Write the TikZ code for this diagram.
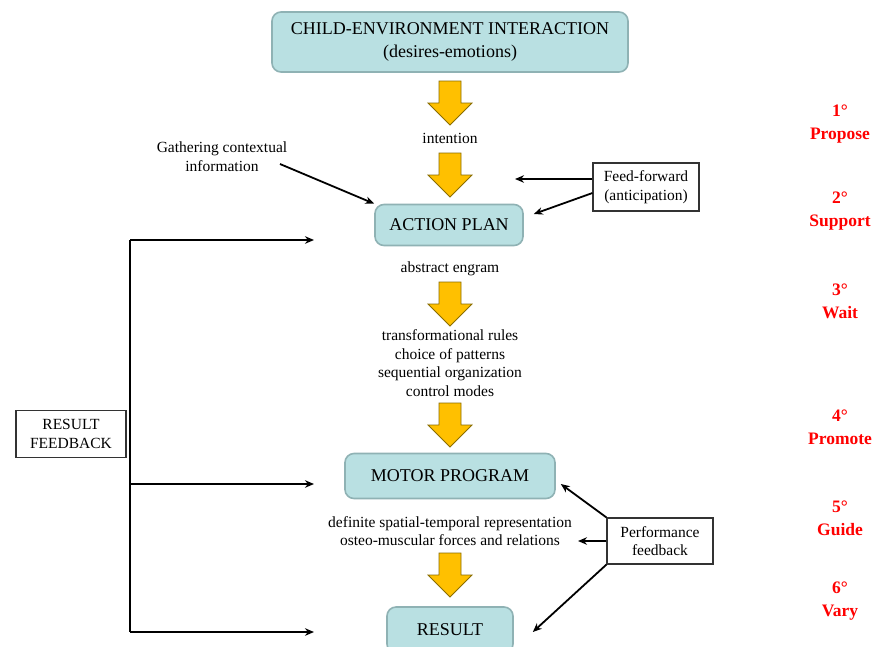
\documentclass[tikz,border=0pt]{standalone}
\usepackage{fontspec}
\setmainfont{Liberation Serif}
\usetikzlibrary{arrows.meta}
\definecolor{stagefill}{HTML}{B9E0E2}
\definecolor{stageline}{HTML}{8FB2B4}
\definecolor{arrowfill}{HTML}{FFC000}
\definecolor{arrowline}{HTML}{8A6D00}
\definecolor{phasered}{HTML}{FF0000}
\tikzset{
  bigarrow/.pic={
    \draw[fill=arrowfill,draw=arrowline,line width=0.8pt]
      (-11,0) -- (11,0) -- (11,22) -- (22,22) -- (0,44) -- (-22,22) -- (-11,22) -- cycle;
  }
}
\begin{document}
\begin{tikzpicture}[x=1pt,y=-1pt,
    stage/.style={draw=stageline,fill=stagefill,line width=1.6pt,rounded corners=9pt,
      align=center,inner sep=0pt,font=\fontsize{18}{23}\selectfont},
    note/.style={align=center,inner sep=0pt,font=\fontsize{15.5}{18.7}\selectfont},
    remark/.style={draw=black!80,line width=1.1pt,align=center,inner sep=0pt,
      font=\fontsize{15.5}{18.7}\selectfont},
    phase/.style={text=phasered,align=center,inner sep=0pt,
      font=\bfseries\fontsize{17.5}{23}\selectfont},
    link/.style={-{Stealth[length=9pt,width=7.5pt]},line width=1.8pt}]
  \useasboundingbox (0,0) rectangle (877,646);
  \clip (0,0) rectangle (877,646);
  \fill[white] (0,0) rectangle (877,646);
  % main chain
  \node[stage,minimum width=356pt,minimum height=60pt] (child) at (450,42)
    {CHILD-ENVIRONMENT INTERACTION\\(desires-emotions)};
  \node[note] (intention) at (450,138) {intention};
  \node[stage,minimum width=148pt,minimum height=41pt] (plan) at (449,225) {ACTION PLAN};
  \node[note] (engram) at (450,269) {abstract engram};
  \node[note] (rules) at (450,363)
    {transformational rules\\choice of patterns\\sequential organization\\control modes};
  \node[stage,minimum width=210pt,minimum height=45pt] (motor) at (450,476) {MOTOR PROGRAM};
  \node[note] (definite) at (450,531)
    {definite spatial-temporal representation\\osteo-muscular forces and relations};
  \node[stage,minimum width=126pt,minimum height=46pt] (result) at (450,630) {RESULT};
  \pic at (450,81) {bigarrow};
  \pic at (450,153) {bigarrow};
  \pic at (450,282) {bigarrow};
  \pic at (450,403) {bigarrow};
  \pic at (450,553) {bigarrow};
  % side inputs
  \node[note] (gather) at (222,157) {Gathering contextual\\information};
  \node[remark,minimum width=106pt,minimum height=48pt] (feed) at (646,187)
    {Feed-forward\\(anticipation)};
  \node[remark,minimum width=106pt,minimum height=46pt] (perf) at (660,541)
    {Performance\\feedback};
  \node[remark,minimum width=110pt,minimum height=47pt] (resultfb) at (71,434)
    {RESULT\\FEEDBACK};
  \coordinate (gatherout) at (280,164);
  \coordinate (ffin) at (515,179);
  \coordinate (perfback) at (578,541);
  \draw[link] (gatherout) -- (plan.north west);
  \draw[link] (feed.west |- ffin) -- (ffin);
  \draw[link] ([yshift=-6pt]feed.west) -- ([xshift=10pt,yshift=11pt]plan.east);
  \draw[link] (perf.north west) -- ([xshift=5pt,yshift=-8pt]motor.east);
  \draw[link] (perf.west) -- (perfback);
  \draw[link] (perf.south west) -- ([xshift=19pt,yshift=-2pt]result.east);
  % result feedback bus
  \coordinate (bustop) at (130,240);
  \coordinate (busmid) at (130,484);
  \coordinate (busbot) at (130,632);
  \coordinate (planin) at (314,240);
  \coordinate (motorin) at (314,484);
  \coordinate (resultin) at (314,632);
  \draw[line width=1.8pt] (bustop) -- (busbot);
  \draw[link] (bustop) -- (planin);
  \draw[link] (busmid) -- (motorin);
  \draw[link] (busbot) -- (resultin);
  % teaching steps
  \node[phase] (propose) at (840,124) {1°\\Propose};
  \node[phase] (support) at (840,211) {2°\\Support};
  \node[phase] (wait) at (840,301) {3°\\Wait};
  \node[phase] (promote) at (840,427) {4°\\Promote};
  \node[phase] (guide) at (840,518) {5°\\Guide};
  \node[phase] (vary) at (840,601) {6°\\Vary};
\end{tikzpicture}
\end{document}
